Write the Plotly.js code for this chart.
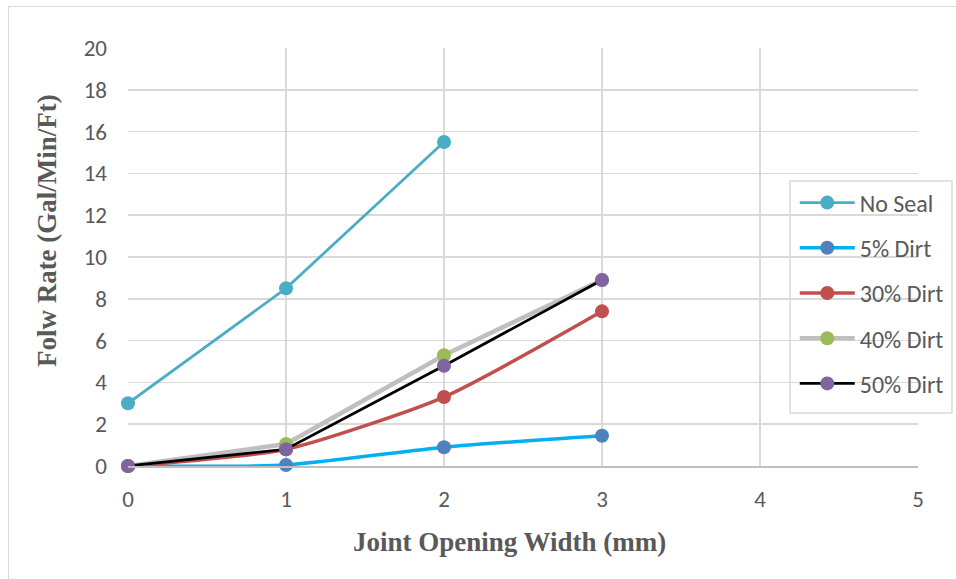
<!DOCTYPE html>
<html><head><meta charset="utf-8">
<script src="https://cdn.plot.ly/plotly-3.0.1.min.js"></script>
<style>
html,body{margin:0;padding:0;background:#fff;}
#frame{position:absolute;left:8px;top:6px;width:960px;height:600px;border-left:1px solid #D9D9D9;border-top:1px solid #D9D9D9;pointer-events:none;}
#chart{width:956px;height:579px;}
</style>
</head><body>
<div id="chart"></div>
<div id="frame"></div>
<script>
const seriesNames = ["No Seal", "5% Dirt", "30% Dirt", "40% Dirt", "50% Dirt"];
const xNoSeal = [0, 1, 2];
const yNoSeal = [3.0, 8.5, 15.5];
const xDirt = [0, 1, 2, 3];
const y5 = [0, 0.05, 0.9, 1.45];
const y30 = [0, 0.8, 3.3, 7.4];
const y40 = [0, 1.05, 5.3, 8.9];
const y50 = [0, 0.8, 4.8, 8.9];
const xTitle = "Joint Opening Width (mm)";
const yTitle = "Folw Rate (Gal/Min/Ft)";

const lineColors = ["#4BACC6", "#00B0F0", "#C0504D", "#BFBFBF", "#000000"];
const markerColors = ["#4BACC6", "#4F81BD", "#C0504D", "#9BBB59", "#8064A2"];
const lineWidths = [2.75, 3.5, 3.5, 4.5, 2.75];
const shapes = ["linear", "spline", "spline", "linear", "linear"];

const xs = [xNoSeal, xDirt, xDirt, xDirt, xDirt];
const ys = [yNoSeal, y5, y30, y40, y50];

const traces = seriesNames.map((n, i) => ({
  type: "scatter", mode: "lines+markers", name: n, x: xs[i], y: ys[i],
  legendgroup: "g" + i, cliponaxis: false,
  line: {color: lineColors[i], width: lineWidths[i], shape: shapes[i], smoothing: 0.6},
  marker: {color: markerColors[i], size: 14}
}));

const tickFont = {family: "Carlito, 'Open Sans', 'Liberation Sans', sans-serif", size: 23, color: "#595959"};
const titleFont = {family: "'Liberation Serif', 'DejaVu Serif', serif", size: 27, color: "#595959", weight: "bold"};

const layout = {
  width: 956, height: 579,
  margin: {l: 128, r: 38, t: 48, b: 113, autoexpand: false},
  paper_bgcolor: "#fff", plot_bgcolor: "#fff",
  showlegend: true,
  xaxis: {
    range: [0, 5], dtick: 1, tick0: 0,
    showgrid: true, gridcolor: "#D9D9D9", gridwidth: 1.5,
    zeroline: false, showline: true, linecolor: "#BFBFBF", linewidth: 1.5,
    ticks: "", tickfont: tickFont, ticklabelstandoff: 12
  },
  yaxis: {
    range: [0, 20], dtick: 2, tick0: 0,
    showgrid: true, gridcolor: "#D9D9D9", gridwidth: 1.5,
    zeroline: false, showline: false,
    ticks: "", tickfont: tickFont, ticklabelstandoff: 20
  },
  shapes: [
    {type: "rect", xref: "paper", yref: "paper", layer: "above",
     x0: 0.838, x1: 1.043, y0: 0.127, y1: 0.682,
     line: {color: "#D9D9D9", width: 1.5}, fillcolor: "rgba(0,0,0,0)"},
    {type: "rect", xref: "paper", yref: "paper", layer: "below",
     x0: 0.838, x1: 1.043, y0: 0.127, y1: 0.682,
     line: {width: 0}, fillcolor: "#fff"}
  ],
  annotations: [
    {text: "<b>" + xTitle + "</b>", xref: "paper", yref: "paper", x: 0.4835, y: -0.1818,
     xanchor: "center", yanchor: "middle", showarrow: false, font: titleFont},
    {text: "<b>" + yTitle + "</b>", xref: "paper", yref: "paper", x: -0.1025, y: 0.562,
     xanchor: "center", yanchor: "middle", showarrow: false, textangle: -90, font: titleFont}
  ],
  legend: {
    x: 0.844, y: 0.683, xanchor: "left", yanchor: "top",
    borderwidth: 0, bgcolor: "rgba(0,0,0,0)",
    font: {family: tickFont.family, size: 24, color: "#595959"},
    traceorder: "grouped", tracegroupgap: 11,
    itemwidth: 55
  }
};

Plotly.newPlot("chart", traces, layout, {displayModeBar: false, staticPlot: true});
</script>
</body></html>
